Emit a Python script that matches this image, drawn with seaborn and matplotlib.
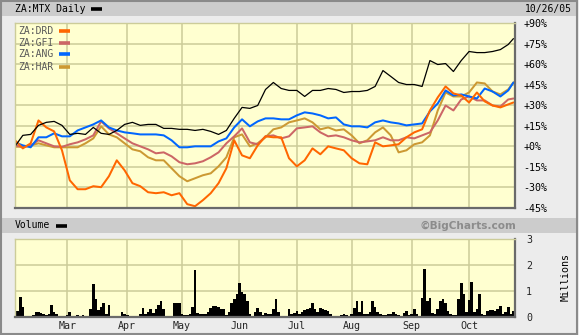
import numpy as np
import pandas as pd
import matplotlib
matplotlib.use("Agg")
import matplotlib.pyplot as plt
import seaborn as sns
from matplotlib.lines import Line2D
from matplotlib.patches import Rectangle

# ---------------- data ----------------
trade_dates = pd.bdate_range("2005-02-01", "2005-10-26")   # daily trading sessions
# line values are read every 3rd session plus the last session
sample_idx = list(range(0, 190, 3)) + [191]

mtx = [0, 8, 8.7, 15.3, 17.5, 18.2, 15.3, 8.7, 9.5, 8.7, 13.8, 9.5, 8.7, 11.6, 16, 17.5,
       15.3, 16, 16, 13.1, 13.1, 12.4, 12.4, 11.6, 12.4, 10.9, 8.7, 11.6, 20.4, 28.4, 27.7, 29.8,
       41.5, 46.6, 42.2, 40.8, 40.8, 36.4, 40.8, 40.8, 42.2, 41.5, 39.3, 40, 40, 40.8, 43.7, 55.3,
       51, 46.6, 45.1, 45.1, 43.7, 62.6, 59.7, 60.4, 54.6, 62.6, 69.2, 68.4, 68.4, 69.2, 70.6, 74.3,
       78.6]
ang = [2.9, 0.7, -0.7, 6.6, 6.6, 9.5, 7.3, 7.3, 11.6, 13.8, 16, 18.9, 13.8, 11.6, 10.2, 9.5,
       8.7, 8.7, 8.7, 8, 4.4, -0.7, -0.7, 0, 0, 0, 3.6, 5.8, 13.8, 19.7, 14.6, 18.2,
       20.4, 20.4, 19.7, 19.7, 22.6, 24.8, 24, 22.6, 20.4, 21.1, 16, 14.6, 14.6, 13.8, 17.5, 18.9,
       17.5, 16.7, 15.3, 16, 16.7, 25.5, 31.3, 40.8, 37.1, 37.9, 36.4, 34.9, 42.2, 40, 36.4, 40.8,
       46.6]
gfi = [0.7, -0.7, 0.7, 4.4, 2.2, 0, -0.4, 1.5, 2.9, 5.1, 8, 18.2, 13.1, 9.5, 5.8, 2.2,
       0, -2.2, -5.1, -4.4, -7.3, -11.6, -13.1, -12.4, -10.9, -8, -4.4, 2.2, 7.3, 13.1, 2.9, 1.5,
       7.3, 8, 5.8, 7.3, 13.1, 13.8, 14.6, 10.2, 7.3, 8, 6.6, 4.4, 2.9, 3.6, 4.4, 6.6,
       4.4, 4.4, 6.6, 5.8, 8, 10.2, 18.9, 29.8, 26.2, 34.2, 36.4, 33.5, 33.5, 29.8, 29.1, 34.2,
       34.9]
har = [-0.4, 0, 0.7, 2.2, 0.7, -0.7, -0.7, -0.7, -0.7, 2.2, 5.8, 14.6, 8.7, 6.6, 2.2, -2.2,
       -3.6, -8, -10.2, -10.2, -16, -21.8, -25.5, -23.3, -21.1, -19.7, -14.6, -8, 6.6, 8.7, 0, 2.2,
       6.6, 12.4, 13.8, 17.5, 18.9, 20.4, 17.5, 12.4, 13.8, 11.6, 12.4, 8, 2.2, 4.4, 10.2, 13.8,
       8, -4.4, -2.9, 1.5, 2.9, 8, 26.2, 39.3, 36.4, 36.4, 39.3, 46.6, 45.9, 40, 37.9, 41.5,
       46.6]
drd = [4.4, -1.5, 2.2, 18.9, 13.8, 10.9, -2.9, -24.8, -31.3, -31.3, -29.1, -29.8, -21.8, -10.2, -17.5, -26.9,
       -29.1, -33.5, -34.2, -33.5, -35.7, -34.2, -42.2, -43.7, -39.3, -34.2, -26.9, -16, 4.4, -6.6, -8.7, 0.7,
       7.3, 6.6, 6.6, -8.7, -14.6, -10.2, -1.5, -5.8, 0, -1.5, -2.9, -8.7, -12.4, -13.1, 2.9, 0,
       0.7, 1.5, 6.6, 10.2, 12.4, 26.2, 35.7, 43.7, 38.6, 37.1, 32, 39.3, 32.8, 29.8, 28.4, 30.6,
       32]

# daily volume of ZA:MTX, millions of shares
volume = [0.17, 0.25, 0.78, 0.4, 0.05, 0.04, 0.04, 0.06, 0.2, 0.18, 0.15, 0.1, 0.08, 0.12, 0.48, 0.2,
          0.1, 0.04, 0.03, 0.05, 0.08, 0.2, 0.05, 0.04, 0.06, 0.05, 0.06, 0.05, 0.05, 0.3, 1.27, 0.7,
          0.28, 0.4, 0.55, 0.12, 0.45, 0.05, 0.04, 0.04, 0.05, 0.2, 0.12, 0.06, 0.04, 0.04, 0.04, 0.05,
          0.1, 0.36, 0.12, 0.2, 0.32, 0.15, 0.3, 0.45, 0.62, 0.3, 0.05, 0.04, 0.05, 0.52, 0.52, 0.52,
          0.1, 0.08, 0.08, 0.1, 0.4, 1.79, 0.15, 0.1, 0.1, 0.12, 0.2, 0.35, 0.43, 0.42, 0.38, 0.32,
          0.3, 0.06, 0.2, 0.55, 0.7, 0.88, 1.31, 0.95, 0.88, 0.6, 0.1, 0.05, 0.2, 0.36, 0.2, 0.08,
          0.17, 0.1, 0.12, 0.3, 0.69, 0.2, 0.05, 0.04, 0.05, 0.3, 0.12, 0.15, 0.25, 0.12, 0.2, 0.28,
          0.3, 0.35, 0.52, 0.3, 0.2, 0.36, 0.3, 0.28, 0.25, 0.1, 0.04, 0.04, 0.04, 0.06, 0.1, 0.06,
          0.04, 0.1, 0.35, 0.62, 0.2, 0.6, 0.1, 0.1, 0.2, 0.62, 0.4, 0.2, 0.1, 0.08, 0.08, 0.1,
          0.1, 0.2, 0.12, 0.08, 0.04, 0.15, 0.23, 0.08, 0.1, 0.3, 0.1, 0.05, 0.75, 1.86, 0.6, 0.75,
          0.15, 0.12, 0.3, 0.6, 0.69, 0.55, 0.25, 0.1, 0.08, 0.08, 0.7, 1.3, 0.88, 0.2, 0.65, 1.34,
          0.2, 0.3, 0.88, 0.1, 0.08, 0.25, 0.27, 0.26, 0.22, 0.3, 0.43, 0.1, 0.2, 0.39, 0.12, 0.25]

symbols = ["ZA:DRD", "ZA:GFI", "ZA:ANG", "ZA:HAR"]
colors = {"ZA:MTX": "#000000", "ZA:DRD": "#ff6600", "ZA:GFI": "#cc6666",
          "ZA:ANG": "#0066ff", "ZA:HAR": "#cc9933"}
pct_ticks = [90, 75, 60, 45, 30, 15, 0, -15, -30, -45]
pct_labels = ["+90%", "+75%", "+60%", "+45%", "+30%", "+15%", "+0%", "-15%", "-30%", "-45%"]
vol_ticks = [0, 1, 2, 3]
month_labels = ["Mar", "Apr", "May", "Jun", "Jul", "Aug", "Sep", "Oct"]

# ---------------- frame ----------------
sns.set_theme(style="white")
plt.rcParams["font.family"] = ["DejaVu Sans Mono"]

W, H = 579, 335
PAGE = "#ececec"
BAR = "#cccccc"
PLOTBG = "#ffffd0"
GRID = "#cccc99"

fig = plt.figure(figsize=(W / 100, H / 100), dpi=100, facecolor=PAGE)

def fx(x):
    return x / W

def fy(y):
    return 1 - y / H

# header bars and outer frame
fig.add_artist(Rectangle((fx(2), fy(16)), fx(574), 16 / H, transform=fig.transFigure,
                         facecolor=BAR, edgecolor="none"))
fig.add_artist(Rectangle((fx(2), fy(233)), fx(575), 15 / H, transform=fig.transFigure,
                         facecolor=BAR, edgecolor="none"))
fig.add_artist(Rectangle((fx(0.8), fy(333.5)), fx(576.5), 333 / H, transform=fig.transFigure,
                         facecolor="none", edgecolor="#8a8a8a", linewidth=1.5))

ax = fig.add_axes([fx(15), fy(208), fx(500), (208 - 23) / H])
axv = fig.add_axes([fx(15), fy(317), fx(500), (317 - 239) / H])

pos = np.array(sample_idx)
frames = []
for name, vals in [("ZA:HAR", har), ("ZA:GFI", gfi), ("ZA:ANG", ang), ("ZA:DRD", drd)]:
    frames.append(pd.DataFrame({"pos": pos, "pct": vals, "symbol": name}))
df = pd.concat(frames, ignore_index=True)
sns.lineplot(data=df, x="pos", y="pct", hue="symbol", palette=colors, ax=ax,
             legend=False, linewidth=1.45, sort=False)
sns.lineplot(x=pos, y=mtx, color="black", linewidth=0.9, ax=ax)

month_pos = [i for i in range(1, len(trade_dates)) if trade_dates[i].month != trade_dates[i - 1].month]

for a in (ax, axv):
    a.set_facecolor(PLOTBG)
    a.set_xlim(0, 191.6)
    a.set_xticks(month_pos)
    a.grid(True, color=GRID, linewidth=1.1)
    a.set_axisbelow(True)
    a.set_xlabel("")
    a.set_ylabel("")
    a.tick_params(length=0)
    a.yaxis.tick_right()
    for s in ("left", "top"):
        a.spines[s].set_color(GRID)
        a.spines[s].set_linewidth(1)
    for s in ("right", "bottom"):
        a.spines[s].set_color("#6a6a6a")
        a.spines[s].set_linewidth(1.6)

ax.set_ylim(-45, 90)
ax.set_yticks(pct_ticks)
ax.set_yticklabels(pct_labels, fontsize=7.2, color="black")
ax.set_xticklabels([])
ax.tick_params(axis="y", pad=6)

axv.bar(np.arange(len(volume)), volume, width=1.0, color="black", linewidth=0)
axv.set_ylim(0, 3)
axv.set_yticks(vol_ticks)
axv.set_yticklabels([str(v) for v in vol_ticks], fontsize=7.2)
axv.tick_params(axis="y", pad=8)
axv.set_xticklabels(month_labels, fontsize=7.2)
axv.tick_params(axis="x", pad=3)

# ---------------- texts ----------------
TXT = dict(fontsize=7, family="DejaVu Sans Mono", va="center")
fig.text(fx(15), fy(9), "ZA:MTX Daily", ha="left", color="black", **TXT)
fig.add_artist(Line2D([fx(91), fx(102)], [fy(9), fy(9)], color="black", linewidth=2.6,
                      transform=fig.transFigure, solid_capstyle="butt"))
fig.text(fx(572), fy(9), "10/26/05", ha="right", color="black", **TXT)

for k, name in enumerate(symbols):
    yy = [30.7, 42.7, 54.3, 66.5][k]
    fig.text(fx(18), fy(yy), name, ha="left", color="#5a5a5a", **TXT)
    fig.add_artist(Line2D([fx(59), fx(70)], [fy(yy), fy(yy)], color=colors[name], linewidth=2.6,
                          transform=fig.transFigure, solid_capstyle="butt"))

fig.text(fx(15), fy(225.5), "Volume", ha="left", color="black", **TXT)
fig.add_artist(Line2D([fx(56), fx(67)], [fy(225.5), fy(225.5)], color="black", linewidth=2.6,
                      transform=fig.transFigure, solid_capstyle="butt"))
fig.text(fx(516), fy(225.5), "\u00a9BigCharts.com", ha="right", va="center", color="#8c8c8c",
         fontsize=7.6, family="DejaVu Sans", fontweight="bold")
fig.text(fx(566), fy(277), "Millions", ha="center", va="center", rotation=90,
         fontsize=7.2, family="DejaVu Sans Mono", color="black")

fig.savefig("out.png", dpi=100, facecolor=PAGE)
